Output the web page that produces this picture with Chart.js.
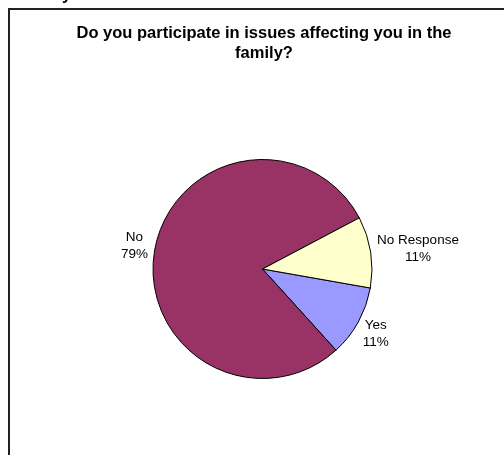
<!DOCTYPE html>
<html>
<head>
<meta charset="utf-8">
<script src="https://cdn.jsdelivr.net/npm/chart.js@4/dist/chart.umd.min.js"></script>
<style>
	html, body{margin:0; padding:0; background:#fff; overflow:hidden;}
	#wrap{position:relative; width:504px; height:455px;}
	#frame{position:absolute; left:8px; top:8px; width:600px; height:600px;
		border-left:2px solid #222; border-top:2px solid #222;}
	canvas{position:absolute; left:0; top:0;}
</style>
</head>
<body>
<div id="wrap">
	<div id="frame"></div>
	<canvas id="my-chart" width="504" height="455"></canvas>
</div>
<script>
//==========
// Data

const title = ["Do you participate in issues affecting you in the", "family?"];
const labels = ["Yes", "No", "No Response"];
const values = [10.5, 78.9, 10.5];// percent
const colors = ["#9999FF", "#993366", "#FFFFCC"];

const FONT = "'Liberation Sans', Arial, sans-serif";

//==========
// Plugins

// title + the cut off letter above the frame
const titlePlugin = {
	id: "titleText",
	afterDraw(chart){
		const ctx = chart.ctx;
		ctx.save();
		ctx.fillStyle = "#000";
		ctx.font = "bold 16.5px " + FONT;
		ctx.textBaseline = "alphabetic";
		ctx.textAlign = "left";
		ctx.fillText("y", 62, -0.5);
		ctx.textAlign = "center";
		ctx.textBaseline = "middle";
		title.forEach((line, i)=>{
			ctx.fillText(line, 264, 33 + i*20);
		});
		ctx.restore();
	}
};

// Excel style labels outside the slices
const labelPlugin = {
	id: "sliceLabels",
	afterDatasetsDraw(chart){
		const ctx = chart.ctx;
		const meta = chart.getDatasetMeta(0);
		const total = values.reduce((a, b)=>a + b, 0);
		ctx.save();
		ctx.fillStyle = "#000";
		ctx.font = "13.5px " + FONT;
		ctx.textAlign = "center";
		ctx.textBaseline = "middle";
		meta.data.forEach((arc, i)=>{
			const p = arc.getProps(["x", "y", "startAngle", "endAngle", "outerRadius"], true);
			const mid = (p.startAngle + p.endAngle)/2;
			const lines = [labels[i], Math.round(values[i]/total*100) + "%"];
			const w = Math.max(...lines.map(s=>ctx.measureText(s).width));
			const lh = 17;
			const h = lh*lines.length;
			const r = p.outerRadius + 7;
			const cx = p.x + Math.cos(mid)*r + Math.cos(mid)*w/2;
			const cy = p.y + Math.sin(mid)*r + Math.sin(mid)*h/2;
			lines.forEach((s, j)=>{
				ctx.fillText(s, cx, cy - h/2 + lh/2 + j*lh);
			});
		});
		ctx.restore();
	}
};

//==========
// Chart

const ctx = document.getElementById("my-chart").getContext("2d");
const myChart = new Chart(ctx, {
	type: "pie",
	data: {
		labels: labels,
		datasets: [{
			data: values,
			backgroundColor: colors,
			borderColor: "#000",
			borderWidth: 1
		}]
	},
	options: {
		responsive: false,
		animation: false,
		rotation: 100,
		layout: {
			padding: {left: 152.5, right: 131.5, top: 159, bottom: 76}
		},
		plugins: {
			legend: {display: false},
			title: {display: false},
			tooltip: {enabled: false}
		}
	},
	plugins: [titlePlugin, labelPlugin]
});
</script>
</body>
</html>
